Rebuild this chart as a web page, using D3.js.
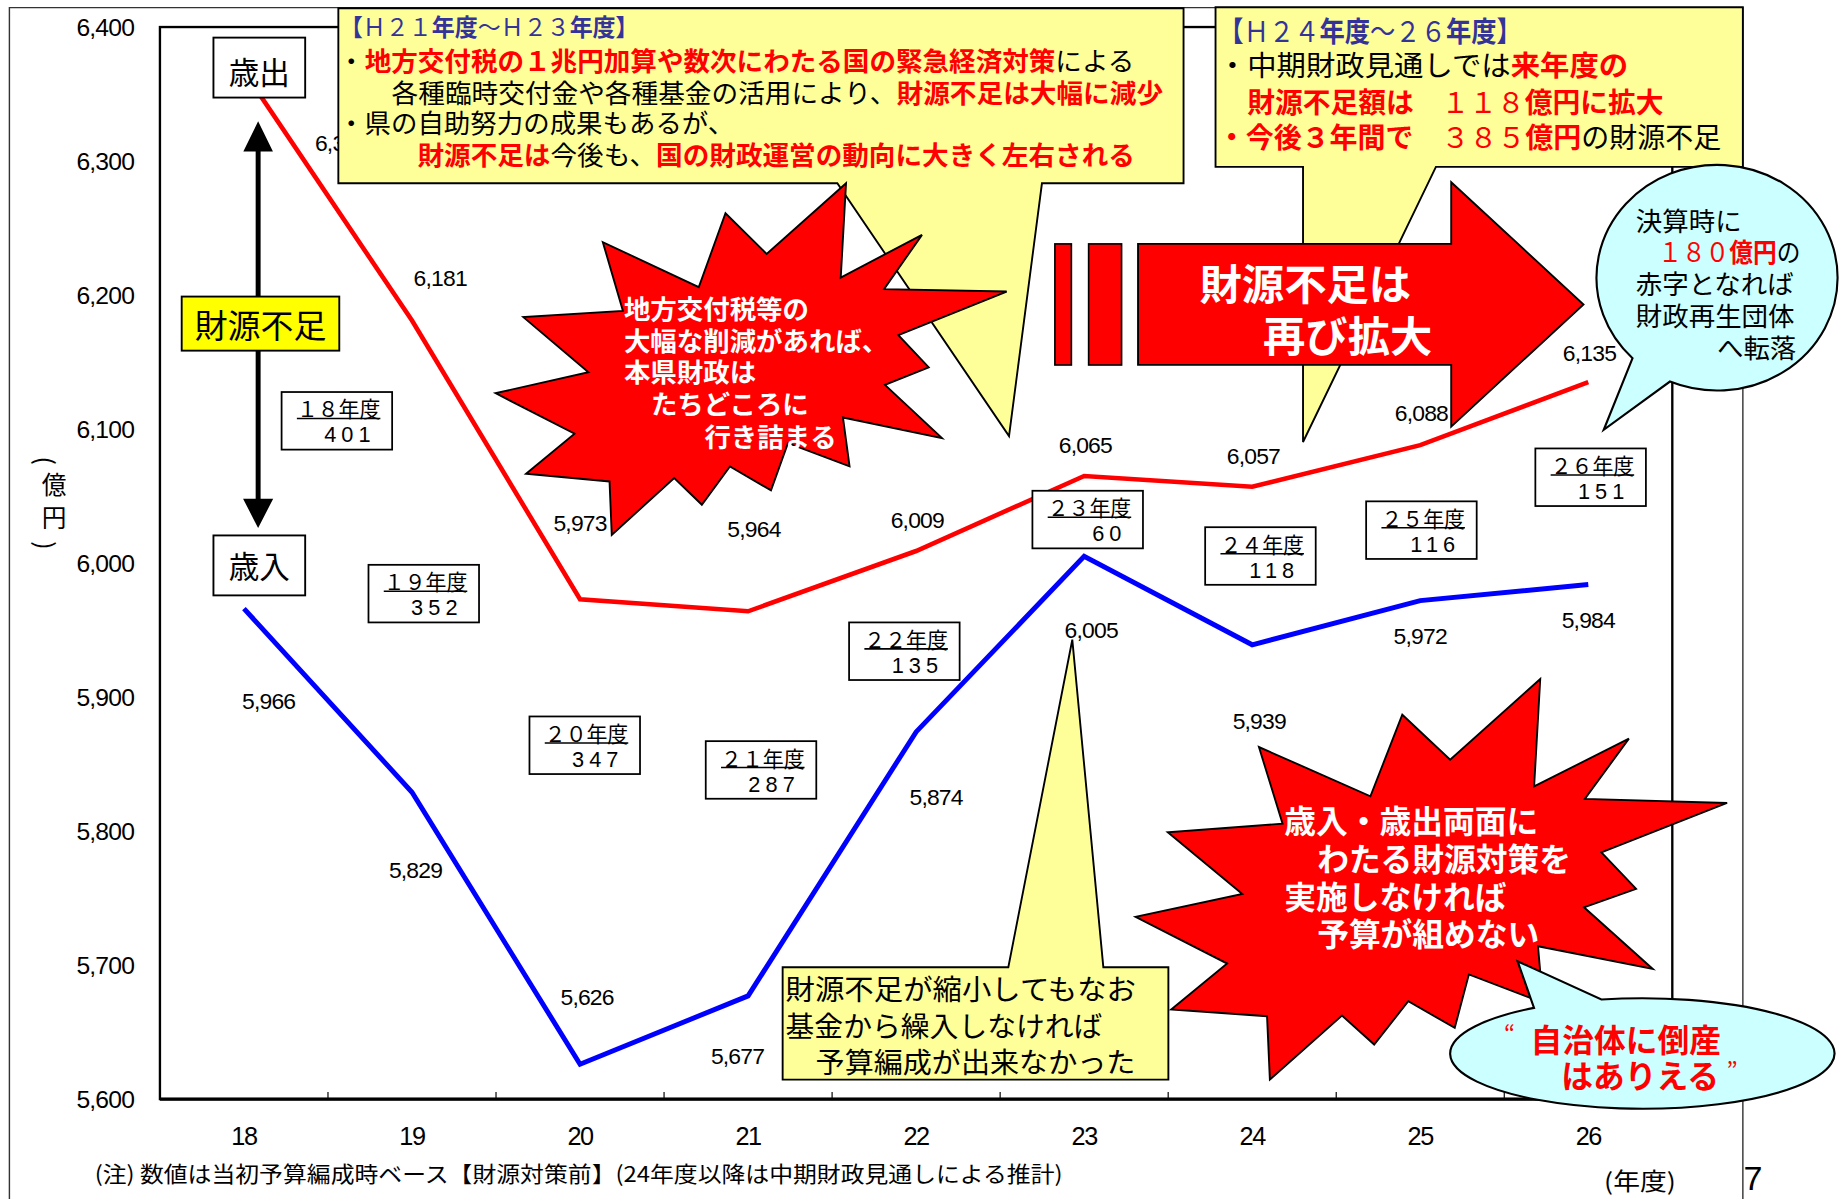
<!DOCTYPE html>
<html>
<head>
<meta charset="utf-8">
<script src="https://cdn.jsdelivr.net/npm/d3@7"></script>
<style>
body{margin:0;background:#fff;}
text{font-family:"Noto Sans CJK JP","Noto Sans",sans-serif;}
.num{font-family:"Liberation Sans",Arial,sans-serif;}
</style>
</head>
<body>
<svg id="chart"></svg>
<script>
// 年度 (H18 - H26)
var years = ["18","19","20","21","22","23","24","25","26"];
// 歳出 / 歳入 (億円)
var spending = [6367,6181,5973,5964,6009,6065,6057,6088,6135];
var revenue  = [5966,5829,5626,5677,5874,6005,5939,5972,5984];
// 財源不足額 (億円)
var shortfall = [401,352,347,287,135,60,118,116,151];
var yTicks = [5600,5700,5800,5900,6000,6100,6200,6300,6400];

// label offsets from the point (px, in the 1568x1020 drawing space)
var spendLabelOff = [[83,61],[24,-36],[0,-65],[5,-70],[1,-26],[1,-26],[1,-26],[1,-27],[1,-25]];
var revLabelOff   = [[21,79],[3,66],[6,-57],[-9,51],[17,55],[6,63],[6,65],[0,30],[0,30]];
// shortfall box centre: dx from year centre, absolute y
var boxPos = [[79,358],[10,505],[4,634],[11,655],[-10,554],[3,442],[7,473],[1,451],[2,406]];

var svg = d3.select("#chart")
    .attr("width",1844).attr("height",1199)
    .attr("viewBox","0 0 1568 1020")
    .attr("preserveAspectRatio","none");

var plotL=136, plotR=1422, plotT=23, plotB=935;

var x = d3.scaleBand().domain(years).range([plotL,plotR]);
var bw = x.bandwidth();
var y = d3.scaleLinear().domain([5600,6400]).range([plotB,plotT]);
function cx(i){ return x(years[i]) + bw/2; }

function full(s){ // half-width digits -> full-width
    return String(s).replace(/[0-9]/g,function(c){return String.fromCharCode(c.charCodeAt(0)+0xFEE0);});
}

// outer page frame
svg.append("path").attr("d","M8,1020 V6.5 H1482 V1020")
    .attr("fill","none").attr("stroke","#333").attr("stroke-width",1.2);

// plot frame
svg.append("rect").attr("x",plotL).attr("y",plotT).attr("width",plotR-plotL).attr("height",plotB-plotT)
    .attr("fill","none").attr("stroke","#000").attr("stroke-width",2);
svg.append("line").attr("x1",plotL).attr("x2",plotR).attr("y1",plotB).attr("y2",plotB)
    .attr("stroke","#000").attr("stroke-width",2.8);

// ticks between categories
svg.selectAll(".xt").data(years.slice(1)).enter().append("line")
    .attr("x1",function(d){return x(d);}).attr("x2",function(d){return x(d);})
    .attr("y1",plotB).attr("y2",plotB-6)
    .attr("stroke","#000").attr("stroke-width",1);

var yAxis = svg.append("g").attr("transform","translate("+plotL+",0)")
    .call(d3.axisLeft(y).tickValues(yTicks).tickSize(0).tickPadding(22).tickFormat(d3.format(",")));
yAxis.select(".domain").remove();
yAxis.selectAll("text").attr("class","num").attr("font-size",21).attr("letter-spacing",-0.7).attr("fill","#000");

var xAxis = svg.append("g").attr("transform","translate(0,"+plotB+")")
    .call(d3.axisBottom(x).tickSize(0).tickPadding(24));
xAxis.select(".domain").remove();
xAxis.selectAll("text").attr("class","num").attr("font-size",21.5).attr("letter-spacing",-1.2).attr("fill","#000");

// 億円 (vertical), brackets turned sideways
var yt = svg.append("g").attr("font-size",21).attr("text-anchor","middle").attr("dominant-baseline","central");
yt.append("text").attr("x",46).attr("y",411).text("億");
yt.append("text").attr("x",46).attr("y",439).text("円");
yt.append("text").attr("x",40).attr("y",392).attr("transform","rotate(90,40,392)").text("(");
yt.append("text").attr("x",40).attr("y",464).attr("transform","rotate(90,40,464)").text(")");

// lines
var line = d3.line().x(function(d,i){return cx(i);}).y(function(d){return y(d);});
svg.append("path").datum(spending).attr("d",line)
    .attr("fill","none").attr("stroke","#ff0000").attr("stroke-width",3.9);
svg.append("path").datum(revenue).attr("d",line)
    .attr("fill","none").attr("stroke","#0000ff").attr("stroke-width",4.2);

// value labels
function valueLabels(vals, off){
    svg.append("g").selectAll("text").data(vals).enter().append("text")
        .attr("class","num").attr("font-size",19.5).attr("letter-spacing",-0.7)
        .attr("text-anchor","middle").attr("dominant-baseline","central")
        .attr("x",function(d,i){return cx(i)+off[i][0];})
        .attr("y",function(d,i){return y(d)+off[i][1];})
        .text(function(d){return d3.format(",")(d);});
}
valueLabels(spending, spendLabelOff);
valueLabels(revenue, revLabelOff);

// shortfall boxes
var bx = svg.append("g").selectAll("g").data(shortfall).enter().append("g")
    .attr("transform",function(d,i){return "translate("+(cx(i)+boxPos[i][0]-47)+","+(boxPos[i][1]-24.5)+")";});
bx.append("rect").attr("width",94).attr("height",49)
    .attr("fill","#fff").attr("stroke","#000").attr("stroke-width",1.5);
bx.append("text").attr("x",13).attr("y",13.5).attr("font-size",18).attr("dominant-baseline","central")
    .attr("textLength",71).attr("lengthAdjust","spacingAndGlyphs")
    .text(function(d,i){return full(years[i])+"年度";});
bx.append("line").attr("x1",13).attr("x2",84).attr("y1",22.5).attr("y2",22.5)
    .attr("stroke","#000").attr("stroke-width",1.3);
bx.append("text").attr("class","num").attr("x",80).attr("y",36.5).attr("font-size",18.5)
    .attr("letter-spacing",4.3).attr("text-anchor","end").attr("dominant-baseline","central")
    .text(function(d){return d;});

// ---------- annotations ----------
var ann = svg.append("g");

function rich(x0, y0, size, parts, len){
    var t = ann.append("text").attr("x",x0).attr("y",y0).attr("font-size",size)
        .attr("dominant-baseline","central");
    if(len) t.attr("textLength",len).attr("lengthAdjust","spacingAndGlyphs");
    parts.forEach(function(p){
        t.append("tspan").text(p[0]).attr("fill",p[1]||"#000").attr("font-weight",p[2]?"bold":"normal");
    });
    return t;
}
function poly(pts, fill){
    ann.append("path").attr("d","M"+pts.map(function(p){return p.join(",");}).join("L")+"Z")
        .attr("fill",fill).attr("stroke","#000").attr("stroke-width",1.6).attr("stroke-linejoin","miter");
}
var RED="#ff0000", NAVY="#333399", YEL="#ffff99", CYAN="#ccffff";

// 歳出 / 歳入 labels and double arrow
ann.append("line").attr("x1",219.5).attr("x2",219.5).attr("y1",125).attr("y2",427)
    .attr("stroke","#000").attr("stroke-width",4.2);
poly([[219.5,105],[208.2,128],[230.8,128]],"#000");
poly([[219.5,447.5],[208,425],[231,425]],"#000");
[["歳出",181.5,32,60],["歳入",181.5,455.5,481]].forEach(function(b){
    ann.append("rect").attr("x",b[1]).attr("y",b[2]).attr("width",78).attr("height",51)
        .attr("fill","#fff").attr("stroke","#000").attr("stroke-width",1.6);
    ann.append("text").attr("x",220.5).attr("y",b[3]).attr("font-size",26)
        .attr("text-anchor","middle").attr("dominant-baseline","central").text(b[0]);
});
ann.append("rect").attr("x",154.5).attr("y",252.3).attr("width",134).attr("height",46)
    .attr("fill","#ffff00").attr("stroke","#000").attr("stroke-width",1.6);
ann.append("text").attr("x",221.5).attr("y",275).attr("font-size",28)
    .attr("text-anchor","middle").attr("dominant-baseline","central").text("財源不足");

// H21-H23 callout
poly([[287.7,7],[1006.4,7],[1006.4,155.9],[886,155.9],[858,371],[712,155.9],[287.7,155.9]],YEL);
rich(289,22,20,[["【",NAVY,1],["Ｈ２１",NAVY],["年度",NAVY,1],["～",NAVY],["Ｈ２３",NAVY],["年度",NAVY,1],["】",NAVY,1]],254);
rich(287.5,50,22.5,[["・"],["地方交付税の１兆円加算や数次にわたる国の緊急経済対策",RED,1],["による"]],677);
rich(333,77,22.5,[["各種臨時交付金や各種基金の活用により、"],["財源不足は大幅に減少",RED,1]],656);
rich(287.5,103,22.5,[["・県の自助努力の成果もあるが、"]]);
rich(355,130,22.5,[["財源不足は",RED,1],["今後も、"],["国の財政運営の動向に大きく左右される",RED,1]],610);

// H24-26 callout
poly([[1033.6,6.2],[1482,6.2],[1482,142],[1221,142],[1108,376],[1108,142],[1033.6,142]],YEL);
rich(1036,25,24,[["【",NAVY,1],["Ｈ２４",NAVY],["年度",NAVY,1],["～",NAVY],["２６",NAVY],["年度",NAVY,1],["】",NAVY,1]],258);
rich(1035.5,54,24,[["・中期財政見通しでは"],["来年度の",RED,1]],349);
rich(1060.5,85,24,[["財源不足額は",RED,1],["　１１８",RED],["億円に拡大",RED,1]],354);
rich(1035.5,115,24,[["・今後３年間で",RED,1],["　３８５",RED],["億円",RED,1],["の財源不足"]],428);

// starburst 1
poly([[719.4,155.9],[714.9,236.1],[784,199.8],[751.7,246],[856,248],[763.9,285.1],[789.7,312.6],[752.5,327.4],
      [801,372.7],[716.8,355.2],[722.4,396.8],[670,377],[655.6,417.2],[620.7,396.8],[596.8,429.4],[573.3,406.7],
      [520.2,455],[518.3,409.6],[447.3,403],[488.6,369],[421.4,334.5],[500.4,316.6],[445,269.8],[529.7,264.5],
      [512.6,206],[594.2,244.3],[616.9,181.4],[651.9,216]],RED);
[["地方交付税等の",530.5,261],["大幅な削減があれば、",530.5,288],["本県財政は",530.5,315],
 ["たちどころに",553.5,342],["行き詰まる",599,370]].forEach(function(l){
    rich(l[1],l[2],22.5,[[l[0],"#fff",1]]);
});

// big arrow
ann.append("rect").attr("x",897).attr("y",207.5).attr("width",14).attr("height",103)
    .attr("fill",RED).attr("stroke","#000").attr("stroke-width",1.4);
ann.append("rect").attr("x",925.7).attr("y",207.5).attr("width",28).attr("height",103)
    .attr("fill",RED).attr("stroke","#000").attr("stroke-width",1.4);
poly([[967.7,207.5],[1234,207.5],[1234,155],[1346.5,259],[1234,363],[1234,310.4],[967.7,310.4]],RED);
rich(1020,239,36,[["財源不足は","#fff",1]]);
rich(1074,283,36,[["再び拡大","#fff",1]]);

// 決算時に bubble
ann.append("path")
    .attr("d","M1388.2,304.7 L1363.7,365.6 L1420,324.6 A102.5,96 0 1,0 1388.2,304.7 Z")
    .attr("fill",CYAN).attr("stroke","#000").attr("stroke-width",1.8);
rich(1391,186,22.5,[["決算時に"]]);
rich(1410,213,22.5,[["１８０",RED],["億円",RED,1],["の"]],121);
rich(1391,240,22.5,[["赤字となれば"]]);
rich(1391,267,22.5,[["財政再生団体"]]);
rich(1460,294,22.5,[["へ転落"]]);

// 財源不足が縮小してもなお
poly([[665.5,822.8],[857.4,822.8],[911.8,544.2],[938.2,822.8],[993.5,822.8],[993.5,918.4],[665.5,918.4]],YEL);
rich(668,840,24.5,[["財源不足が縮小してもなお"]],298);
rich(668,871,24.5,[["基金から繰入しなければ"]]);
rich(693.5,902,24.5,[["予算編成が出来なかった"]],272);

// starburst 2
poly([[1309.7,577.6],[1304.5,669],[1385.1,628.4],[1347.6,679.7],[1468.6,683.1],[1361.7,725.1],[1391.2,756.2],
      [1346.9,771.8],[1405.4,824.3],[1307.8,805],[1312,853],[1249,829],[1237,874.4],[1197.5,851.8],[1168.5,888.6],
      [1141.1,864],[1079.8,918.4],[1077.4,864.5],[995.9,858.8],[1043.5,819.7],[965.6,780],[1056.4,760.5],
      [993,708],[1090.6,700.7],[1070.5,635.5],[1165.3,677.4],[1192.4,608],[1233.1,646.3]],RED);
[["歳入・歳出両面に",1092,697],["わたる財源対策を",1120,729],["実施しなければ",1092,761],["予算が組めない",1120,793]]
    .forEach(function(l){ rich(l[1],l[2],27,[[l[0],"#fff",1]]); });

// 自治体に倒産 bubble
ann.append("path")
    .attr("d","M1304.4,857.4 L1290.4,817.7 L1361.7,850.3 A163.4,47 0 1,1 1304.4,857.4 Z")
    .attr("fill",CYAN).attr("stroke","#000").attr("stroke-width",1.8);
rich(1279,878,20,[["\u201C",RED]]);
rich(1301.5,883,27,[["自治体に倒産",RED,1]]);
rich(1327.5,914,27,[["はありえる",RED,1]]);
rich(1468,909,20,[["\u201D",RED]]);

// footnotes
rich(80.5,997,18.5,[["(注) 数値は当初予算編成時ベース【財源対策前】(24年度以降は中期財政見通しによる推計)"]],823);
rich(1364,1004,20,[["(年度)"]],61);
svg.append("text").attr("class","num").attr("x",1482.5).attr("y",1012).attr("font-size",29).text("7");
</script>
</body>
</html>
